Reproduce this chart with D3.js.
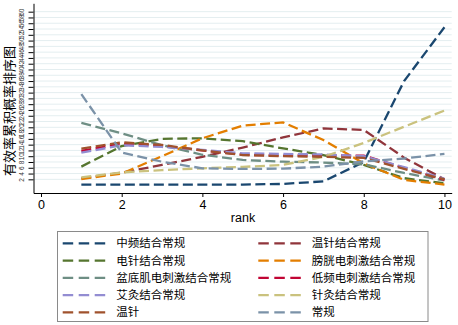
<!DOCTYPE html>
<html>
<head>
<meta charset="utf-8">
<script src="https://cdn.jsdelivr.net/npm/d3@7"></script>
<style>
  body { margin: 0; background: #fff; }
  text { font-family: "Liberation Sans", "Noto Sans CJK SC", sans-serif; }
</style>
</head>
<body>
<svg id="chart" width="458" height="325"></svg>
<script>
const ranks = [1, 2, 3, 4, 5, 6, 7, 8, 9, 10];
const xTicks = [0, 2, 4, 6, 8, 10];
const yTicks = d3.range(2, 62, 2);

// rank probabilities (%) per treatment
const zhongpin   = [0.2, 0.2, 0.2, 0.2, 0.2, 0.4, 1.3, 8.0, 36.0, 54.6];
const wenzhenCg  = [2.3, 4.3, 7.0, 9.8, 13.0, 16.5, 19.6, 19.1, 9.5, 2.0];
const dianzhen   = [6.4, 13.5, 16.0, 16.2, 15.2, 12.7, 10.4, 7.0, 2.4, 0.6];
const pangguang  = [2.1, 4.0, 10.0, 16.2, 20.6, 21.7, 15.6, 7.5, 1.8, 0.2];
const pendiji    = [21.5, 17.9, 13.8, 10.5, 8.7, 8.1, 7.8, 7.2, 4.2, 1.6];
const dipin      = [11.8, 14.4, 13.6, 12.0, 10.5, 10.2, 10.3, 10.2, 6.0, 1.8];
const aijiu      = [11.2, 13.8, 13.2, 12.2, 11.0, 10.8, 10.6, 10.0, 6.2, 2.2];
const zhenjiu    = [2.7, 4.4, 5.2, 5.8, 6.3, 7.0, 9.8, 14.6, 20.2, 25.8];
const wenzhen    = [12.6, 14.8, 13.9, 12.0, 10.4, 10.0, 9.8, 9.4, 5.6, 2.0];
const changgui   = [31.5, 11.3, 8.1, 5.8, 5.6, 5.7, 6.4, 8.2, 9.2, 10.8];

const seriesNames = ["中频结合常规", "温针结合常规", "电针结合常规", "膀胱电刺激结合常规",
  "盆底肌电刺激结合常规", "低频电刺激结合常规", "艾灸结合常规", "针灸结合常规", "温针", "常规"];
const seriesValues = [zhongpin, wenzhenCg, dianzhen, pangguang, pendiji, dipin, aijiu, zhenjiu, wenzhen, changgui];
const colors = ["#1a476f", "#90353b", "#55752f", "#e37e00", "#6e8e84",
  "#c10534", "#938dd2", "#cac27e", "#a0522d", "#7b92a8"];

const svg = d3.select("#chart");

const x = d3.scaleLinear().domain([-0.186, 10.18]).range([33.5, 451.7]);
const y = d3.scaleLinear().domain([-2.73, 62.9]).range([193, 3.3]);

// gridlines
svg.append("g")
  .selectAll("line")
  .data(yTicks)
  .enter().append("line")
  .attr("x1", x.range()[0]).attr("x2", x.range()[1])
  .attr("y1", d => y(d)).attr("y2", d => y(d))
  .attr("stroke", "#e4eef0")
  .attr("stroke-width", 1);

// series
const line = d3.line()
  .x((d, i) => x(ranks[i]))
  .y(d => y(d));

svg.append("g")
  .selectAll("path")
  .data(seriesValues)
  .enter().append("path")
  .attr("d", line)
  .attr("fill", "none")
  .attr("stroke", (d, i) => colors[i])
  .attr("stroke-width", 2.3)
  .attr("stroke-dasharray", "10,4.5");

// x axis
const xAxis = svg.append("g")
  .attr("transform", "translate(0,193)")
  .call(d3.axisBottom(x).tickValues(xTicks).tickSize(4).tickPadding(3).tickSizeOuter(0));
xAxis.select(".domain").attr("stroke", "#000");
xAxis.selectAll(".tick line").attr("stroke", "#000");
xAxis.selectAll("text").attr("font-size", 12.5).attr("fill", "#000")
  .attr("font-family", "Liberation Sans, sans-serif");

svg.append("text")
  .attr("x", 243).attr("y", 222)
  .attr("text-anchor", "middle")
  .attr("font-size", 12.5)
  .text("rank");

// y axis
const yAxis = svg.append("g")
  .attr("transform", "translate(33.5,0)")
  .call(d3.axisLeft(y).tickValues(yTicks).tickSize(5).tickSizeOuter(0));
yAxis.select(".domain").attr("stroke", "#000");
yAxis.selectAll(".tick line").attr("stroke", "#000");
yAxis.selectAll(".tick text")
  .attr("x", null).attr("dy", null)
  .attr("text-anchor", "middle")
  .attr("font-size", 6.5)
  .attr("fill", "#333")
  .attr("transform", "translate(-10,0) rotate(-90)")
  .attr("y", 0);

svg.append("text")
  .attr("transform", "translate(14,111) rotate(-90)")
  .attr("text-anchor", "middle")
  .attr("font-size", 13)
  .attr("font-family", "Noto Sans CJK SC, sans-serif")
  .text("有效率累积概率排序图");

// legend
svg.append("rect")
  .attr("x", 57.5).attr("y", 231.5)
  .attr("width", 370.5).attr("height", 90)
  .attr("fill", "#fff")
  .attr("stroke", "#8a8a8a")
  .attr("stroke-width", 1);

const legend = svg.append("g")
  .selectAll("g")
  .data(seriesNames)
  .enter().append("g")
  .attr("transform", (d, i) => "translate(" + (i % 2 === 0 ? 62.7 : 258.3) + "," + (243.3 + Math.floor(i / 2) * 17.25) + ")");

legend.append("line")
  .attr("x1", 0).attr("x2", 43)
  .attr("y1", 0).attr("y2", 0)
  .attr("stroke", (d, i) => colors[i])
  .attr("stroke-width", 2.3)
  .attr("stroke-dasharray", "10.5,5.5");

legend.append("text")
  .attr("x", 53.5)
  .attr("y", 0)
  .attr("dy", "0.36em")
  .attr("font-size", 11.5)
  .attr("font-family", "Noto Sans CJK SC, sans-serif")
  .text(d => d);
</script>
</body>
</html>
